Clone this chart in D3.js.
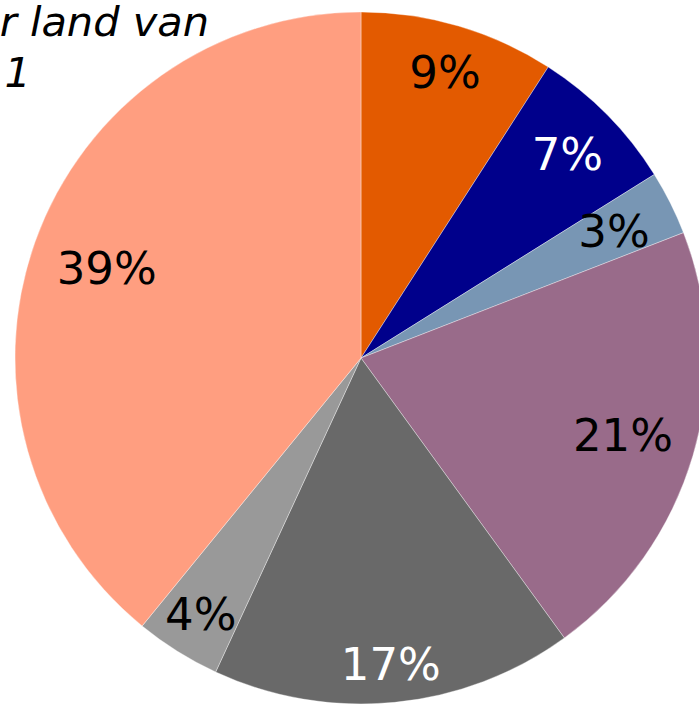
<!DOCTYPE html>
<html>
<head>
<meta charset="utf-8">
<script src="https://cdn.jsdelivr.net/npm/d3@7"></script>
<style>
  html, body { margin: 0; padding: 0; background: #ffffff; }
  svg { display: block; }
</style>
</head>
<body>
<div id="chart"></div>
<script>
// ---- data ----
const categories = ["A", "B", "C", "D", "E", "F", "G"];
const values = [9.1, 7.0, 3.0, 20.9, 16.9, 4.0, 39.1];
const labels = ["9%", "7%", "3%", "21%", "17%", "4%", "39%"];
const titleLines = ["r land van", "1"];

// ---- styling / layout ----
const colors = ["#E35A00", "#00008B", "#7896B4", "#996B8A", "#696969", "#999999", "#FF9E80"];
const labelColors = ["#000", "#fff", "#000", "#000", "#fff", "#000", "#000"];
const labelRadius = [298, 290, 283, 273, 307, 302, 270];

const W = 699, H = 705;
const cx = 361, cy = 358, R = 346;

const svg = d3.select("#chart").append("svg")
  .attr("width", W).attr("height", H)
  .attr("viewBox", `0 0 ${W} ${H}`);

const pie = d3.pie().sort(null).value(d => d.value);
const arcs = pie(categories.map((c, i) => ({ cat: c, value: values[i], i })));
const arc = d3.arc().innerRadius(0).outerRadius(R);

const g = svg.append("g").attr("transform", `translate(${cx},${cy})`);

g.selectAll("path.slice").data(arcs).join("path")
  .attr("class", "slice")
  .attr("d", arc)
  .attr("fill", d => colors[d.data.i])
  .attr("stroke", "#ffffff")
  .attr("stroke-width", 0.6)
  .attr("stroke-opacity", 0.6);

g.selectAll("text.lbl").data(arcs).join("text")
  .attr("class", "lbl")
  .attr("transform", d => {
    const a = (d.startAngle + d.endAngle) / 2;
    const r = labelRadius[d.data.i];
    return `translate(${r * Math.sin(a)},${-r * Math.cos(a)})`;
  })
  .attr("text-anchor", "middle")
  .attr("dy", "0.36em")
  .attr("font-family", "DejaVu Sans, Verdana, sans-serif")
  .attr("font-size", 45)
  .attr("fill", d => labelColors[d.data.i])
  .text(d => labels[d.data.i]);

// title fragments (cut off at the left edge in the reference)
const titleEnds = [209, 31];
const titleBaselines = [36, 87];
svg.selectAll("text.title").data(titleLines).join("text")
  .attr("class", "title")
  .attr("x", (d, i) => titleEnds[i])
  .attr("y", (d, i) => titleBaselines[i])
  .attr("text-anchor", "end")
  .attr("font-family", "DejaVu Sans, Verdana, sans-serif")
  .attr("font-style", "italic")
  .attr("font-size", 41.5)
  .attr("fill", "#000")
  .text(d => d);
</script>
</body>
</html>
